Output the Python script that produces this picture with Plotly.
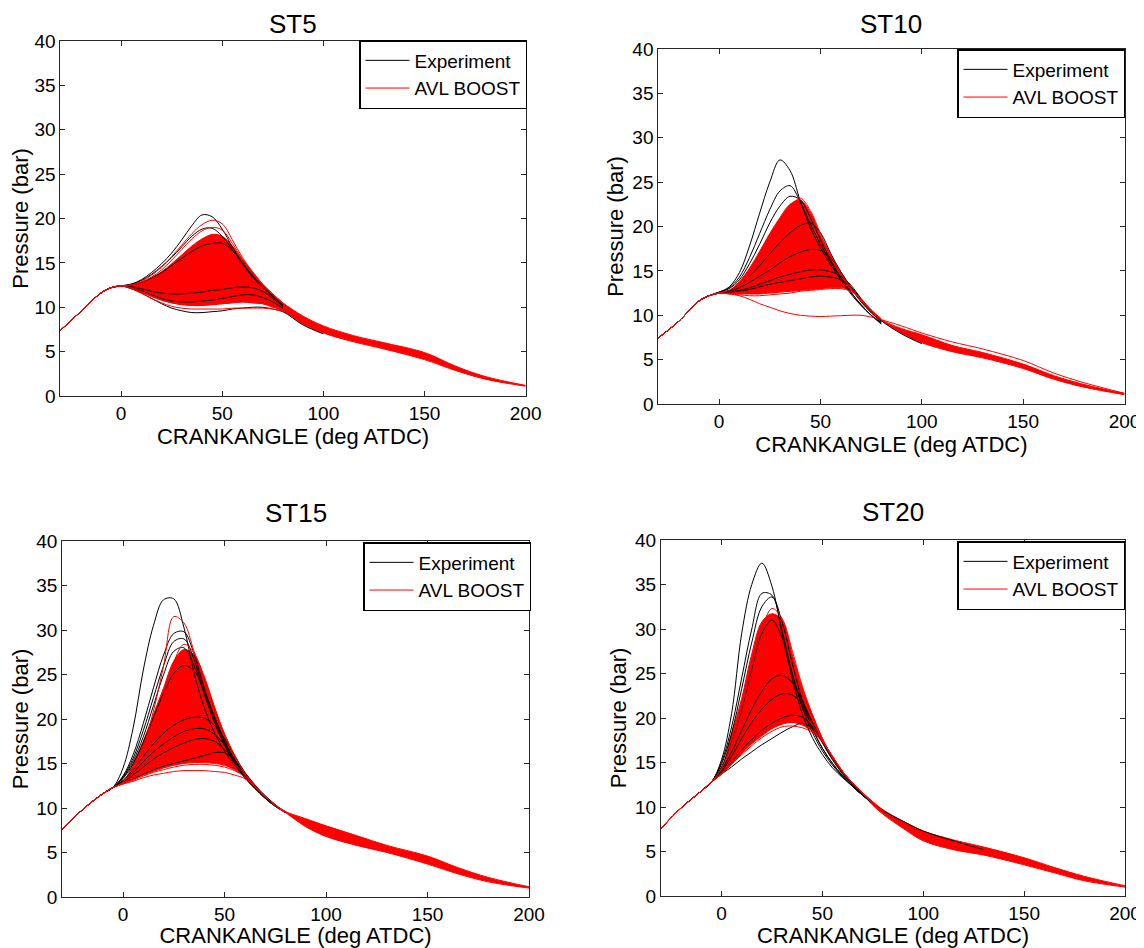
import plotly.graph_objects as go

# Crank angle grid (deg ATDC)
ANG = [-30, -20, -10, -5, 0, 5, 10, 15, 20, 25, 30, 35, 40, 45, 50, 55, 60, 65, 70, 75, 80,
       90, 100, 115, 130, 150, 165, 180, 200]

TITLES = ["ST5", "ST10", "ST15", "ST20"]
X_TICKS = [0, 50, 100, 150, 200]
Y_TICKS = [0, 5, 10, 15, 20, 25, 30, 35, 40]

# ---------------- ST5 ----------------
ST5_COMP = [7.4, 9.5, 11.6, 12.2]
ST5_RED_UPPER = [12.4, 12.5, 12.8, 13.3, 14.0, 14.9, 15.9, 16.9, 17.7, 18.2, 18.0, 16.9, 15.4, 14.0, 12.6, 11.5, 10.5,
                 9.0, 7.9, 6.8, 6.0, 4.9, 3.4, 2.2, 1.2]
ST5_RED_LOWER = [12.4, 12.1, 11.7, 11.2, 10.8, 10.5, 10.3, 10.2, 10.2, 10.3, 10.4, 10.5, 10.6, 10.5, 10.4, 10.0, 9.6,
                 8.1, 7.1, 6.1, 5.3, 4.1, 2.9, 1.9, 1.1]
ST5_SIM = [
    [12.4, 12.5, 12.9, 13.6, 14.5, 15.7, 17.0, 18.3, 19.3, 19.8, 19.4, 17.6, 15.6, 14.0, 12.6, 11.5, 10.5],
    [12.4, 12.5, 12.8, 13.4, 14.2, 15.3, 16.5, 17.7, 18.6, 19.0, 18.7, 17.2, 15.4, 13.9, 12.5, 11.4, 10.4],
    [12.4, 12.2, 11.8, 11.3, 10.8, 10.5, 10.3, 10.2, 10.2, 10.3, 10.4, 10.5, 10.6, 10.5, 10.4, 10.1, 9.6],
    [12.4, 12.1, 11.6, 11.0, 10.5, 10.1, 9.9, 9.8, 9.8, 9.8, 9.8, 9.9, 9.9, 9.9, 9.9, 9.8, 9.5],
]
ST5_EXP = [
    [12.4, 12.6, 13.1, 13.9, 14.9, 16.1, 17.6, 19.2, 20.4, 20.2, 18.8, 16.8, 15.0, 13.5, 12.2, 11.2, 10.2],
    [12.4, 12.6, 13.0, 13.7, 14.6, 15.6, 16.8, 18.0, 18.8, 18.9, 18.0, 16.5, 14.9, 13.4, 12.2, 11.2, 10.2],
    [12.4, 12.5, 12.8, 13.3, 13.9, 14.7, 15.5, 16.3, 16.9, 17.2, 17.2, 16.4, 15.0, 13.6, 12.4, 11.3, 10.3],
    [12.4, 12.3, 12.1, 11.8, 11.6, 11.5, 11.5, 11.6, 11.7, 11.9, 12.0, 12.2, 12.3, 12.2, 11.8, 11.0, 10.1],
    [12.4, 12.2, 11.9, 11.4, 11.0, 10.7, 10.6, 10.6, 10.7, 10.8, 11.0, 11.2, 11.4, 11.4, 11.1, 10.6, 9.9],
    [12.4, 12.1, 11.6, 11.0, 10.4, 9.9, 9.6, 9.4, 9.4, 9.5, 9.6, 9.8, 9.9, 10.0, 10.0, 9.8, 9.5, 8.0, 7.0],
]

# ---------------- ST10 ----------------
ST10_COMP = [7.45, 9.3, 11.6, 12.2]
ST10_RED_UPPER = [12.5, 12.8, 13.8, 15.3, 17.2, 19.2, 21.0, 22.5, 23.0, 21.6, 19.0, 16.8, 14.8, 13.1, 11.6, 10.4, 9.5,
                  8.5, 7.8, 6.6, 5.8, 4.5, 3.2, 2.2, 1.2]
ST10_RED_LOWER = [12.5, 12.5, 12.4, 12.4, 12.4, 12.5, 12.6, 12.7, 12.8, 12.9, 13.0, 13.1, 13.1, 12.8, 11.6, 10.4, 9.4,
                  8.0, 6.9, 5.9, 5.2, 4.0, 2.8, 1.9, 1.05]
ST10_SIM = [
    [12.5, 12.8, 13.4, 14.5, 16.0, 17.9, 19.9, 22.0, 23.2, 21.8, 19.2, 16.8, 14.8, 13.1, 11.6, 10.4, 9.5],
    [12.5, 12.4, 12.3, 12.2, 12.2, 12.3, 12.4, 12.5, 12.7, 12.8, 12.9, 13.0, 13.0, 12.7, 11.8, 10.6, 9.6],
    [12.5, 12.5, 12.6, 12.7, 12.9, 13.1, 13.3, 13.5, 13.6, 13.8, 13.9, 13.9, 13.7, 13.0, 11.8, 10.5, 9.5],
    [12.5, 12.4, 12.2, 11.8, 11.3, 10.9, 10.5, 10.2, 10.0, 9.9, 9.85, 9.9, 9.95, 10.0, 10.0, 9.8, 9.5,
     8.8, 8.0, 7.0, 6.2, 4.9, 3.5, 2.4, 1.2],
]
ST10_EXP = [
    [12.6, 13.2, 14.8, 17.8, 21.5, 25.0, 27.5, 26.3, 22.9, 19.9, 17.6, 15.7, 14.0, 12.4, 11.1, 10.0, 9.2],
    [12.6, 13.1, 14.3, 16.5, 19.2, 21.9, 24.0, 24.6, 22.8, 20.3, 18.0, 16.0, 14.2, 12.6, 11.2, 10.0, 9.1],
    [12.6, 13.0, 14.0, 15.8, 18.0, 20.4, 22.3, 23.4, 23.0, 21.0, 18.5, 16.2, 14.3, 12.6, 11.2, 10.0, 9.0],
    [12.5, 12.8, 13.4, 14.4, 15.6, 16.9, 18.2, 19.3, 20.1, 20.4, 19.3, 17.0, 14.9, 13.1, 11.5, 10.3, 9.3],
    [12.5, 12.7, 13.1, 13.7, 14.4, 15.1, 15.9, 16.6, 17.1, 17.4, 17.3, 16.5, 14.9, 13.2, 11.6, 10.3, 9.3],
    [12.5, 12.6, 12.8, 13.1, 13.5, 13.9, 14.3, 14.6, 14.9, 15.1, 15.1, 14.9, 14.4, 13.4, 11.9, 10.6, 9.5],
    [12.5, 12.5, 12.7, 12.9, 13.2, 13.5, 13.7, 13.9, 14.1, 14.3, 14.4, 14.3, 14.0, 13.2, 11.8, 10.5, 9.4, 7.9, 6.8],
]

# ---------------- ST15 ----------------
ST15_COMP = [7.6, 9.8, 11.6, 12.3]
ST15_RED_UPPER = [12.9, 15.0, 17.5, 20.5, 23.5, 26.5, 27.8, 27.2, 24.8, 21.4, 18.3, 15.9, 13.9, 12.5, 11.3, 10.3, 9.6,
                  8.8, 8.0, 6.9, 5.8, 4.6, 3.3, 2.2, 1.15]
ST15_RED_LOWER = [12.8, 13.2, 13.7, 14.1, 14.5, 14.8, 15.0, 15.1, 15.1, 15.0, 14.8, 14.3, 13.5, 12.4, 11.3, 10.3, 9.5,
                  7.9, 6.8, 5.8, 5.0, 3.7, 2.6, 1.7, 1.0]
ST15_SIM = [
    [12.9, 14.3, 16.9, 20.9, 26.0, 31.5, 30.8, 27.6, 24.6, 21.3, 18.3, 15.9, 13.9, 12.5, 11.3, 10.3, 9.6],
    [12.8, 14.0, 16.2, 19.2, 22.8, 26.4, 28.4, 27.4, 24.6, 21.3, 18.3, 15.9, 13.9, 12.5, 11.3, 10.3, 9.6],
    [12.7, 13.0, 13.4, 13.7, 13.9, 14.1, 14.2, 14.2, 14.2, 14.1, 14.0, 13.7, 13.3, 12.4, 11.3, 10.3, 9.5],
    [12.7, 13.1, 13.6, 14.0, 14.3, 14.6, 14.8, 14.9, 14.9, 14.8, 14.6, 14.2, 13.5, 12.4, 11.3, 10.3, 9.5],
    [12.8, 13.3, 13.9, 14.4, 14.9, 15.4, 15.8, 16.1, 16.2, 16.1, 15.7, 14.9, 13.8, 12.5, 11.3, 10.3, 9.5],
]
ST15_EXP = [
    [14.5, 19.0, 25.5, 30.5, 33.4, 33.5, 30.3, 25.2, 21.3, 18.5, 16.4, 14.8, 13.5, 12.3, 11.2, 10.3, 9.6],
    [13.6, 16.0, 19.5, 23.5, 27.2, 29.6, 29.8, 27.3, 23.5, 20.1, 17.4, 15.2, 13.5, 12.2, 11.1, 10.2, 9.5],
    [13.5, 15.6, 18.7, 22.4, 26.0, 28.7, 29.0, 26.7, 23.0, 19.7, 17.1, 15.0, 13.4, 12.2, 11.1, 10.2, 9.5],
    [13.4, 15.3, 18.0, 21.5, 25.0, 27.6, 28.0, 26.0, 22.8, 19.7, 17.1, 15.0, 13.4, 12.2, 11.1, 10.2, 9.5],
    [13.3, 15.0, 17.4, 20.2, 22.9, 25.1, 26.0, 25.4, 23.2, 20.3, 17.6, 15.4, 13.6, 12.3, 11.2, 10.3, 9.5],
    [13.1, 14.3, 15.8, 17.2, 18.4, 19.3, 19.9, 20.2, 20.1, 19.3, 17.8, 15.9, 14.0, 12.5, 11.3, 10.3, 9.5],
    [13.0, 14.0, 15.2, 16.3, 17.2, 18.0, 18.6, 18.9, 18.9, 18.3, 17.1, 15.5, 13.8, 12.4, 11.3, 10.3, 9.5],
    [12.9, 13.7, 14.6, 15.5, 16.2, 16.8, 17.3, 17.7, 17.8, 17.5, 16.6, 15.3, 13.8, 12.4, 11.3, 10.3, 9.5],
    [12.8, 13.3, 13.8, 14.3, 14.7, 15.0, 15.3, 15.6, 15.9, 16.2, 16.2, 15.4, 14.0, 12.6, 11.4, 10.4, 9.5],
]

# ---------------- ST20 ----------------
ST20_COMP = [7.6, 9.9, 11.8, 12.8]
ST20_RED_UPPER = [14.3, 18.2, 22.2, 27.2, 30.8, 31.7, 31.0, 27.2, 23.4, 20.4, 17.7, 15.5, 14.0, 12.7, 11.6, 10.6, 9.7,
                  8.4, 7.3, 6.3, 5.5, 4.3, 3.2, 2.2, 1.15]
ST20_RED_LOWER = [13.7, 14.8, 16.0, 17.1, 18.0, 18.8, 19.3, 19.5, 19.2, 18.5, 17.3, 15.6, 13.9, 12.6, 11.4, 10.2, 9.2,
                  7.6, 6.2, 5.2, 4.6, 3.5, 2.6, 1.7, 1.0]
ST20_SIM = [
    [14.3, 17.2, 21.2, 25.8, 30.0, 32.3, 31.2, 27.6, 23.6, 20.4, 17.7, 15.5, 13.9, 12.6, 11.5, 10.5, 9.6],
    [13.7, 14.8, 15.9, 16.9, 17.8, 18.5, 19.0, 19.1, 18.9, 18.4, 17.3, 15.7, 14.0, 12.7, 11.5, 10.4, 9.5],
    [13.7, 14.9, 16.1, 17.2, 18.1, 18.9, 19.4, 19.6, 19.3, 18.6, 17.4, 15.7, 14.0, 12.7, 11.5, 10.4, 9.5],
    [13.8, 15.1, 16.6, 18.0, 19.3, 20.4, 21.1, 21.1, 20.5, 19.2, 17.5, 15.7, 14.0, 12.7, 11.5, 10.4, 9.5],
]
ST20_EXP = [
    [15.3, 20.5, 29.5, 35.0, 37.4, 34.8, 29.5, 24.5, 20.5, 17.8, 15.9, 14.4, 13.3, 12.3, 11.3, 10.4, 9.6,
     8.4, 7.3, 6.2, 5.2],
    [15.0, 19.0, 24.5, 30.0, 34.0, 33.8, 29.8, 25.0, 21.2, 18.4, 16.3, 14.7, 13.4, 12.3, 11.3, 10.4, 9.6],
    [14.8, 18.3, 23.3, 28.5, 32.5, 33.6, 30.8, 26.2, 22.0, 18.9, 16.6, 14.9, 13.5, 12.3, 11.3, 10.4, 9.6],
    [14.5, 17.3, 21.0, 25.5, 29.5, 31.0, 29.0, 25.0, 21.5, 18.8, 16.6, 14.9, 13.5, 12.3, 11.3, 10.4, 9.6],
    [14.2, 16.2, 18.6, 21.0, 23.0, 24.4, 24.8, 24.0, 22.0, 19.5, 17.2, 15.3, 13.7, 12.4, 11.3, 10.4, 9.6],
    [14.0, 15.7, 17.7, 19.5, 21.0, 22.1, 22.7, 22.6, 21.5, 19.5, 17.3, 15.4, 13.8, 12.5, 11.4, 10.4, 9.6],
    [13.8, 15.1, 16.4, 17.6, 18.6, 19.4, 20.0, 20.3, 20.1, 19.1, 17.4, 15.6, 13.9, 12.5, 11.4, 10.4, 9.6],
    [13.7, 14.5, 15.4, 16.2, 17.0, 17.7, 18.4, 19.0, 19.4, 18.9, 17.5, 15.6, 13.9, 12.5, 11.4, 10.4, 9.6],
]

FONT = "Liberation Sans, Arial, sans-serif"

# The page body has an 8 px margin, so the figure is placed at (8, 8) in the window.
OFF = 8
W, H = 1144 - OFF, 948 - OFF
# pixel geometry of the four axes boxes (left, right, top, bottom) in the 1144x948 window
BOXES = [(60.4, 525.6, 41, 396), (658.3, 1124.5, 49, 404), (62.1, 529, 541, 897), (661, 1125, 540, 896)]
TITLE_Y = [24, 24, 513, 512]
LEGEND_POS = [(527, 40), (1125, 49), (531, 542), (1125, 541)]


def px(xw):
    return (xw - OFF) / W


def py(yw):
    return 1 - (yw - OFF) / H


PANELS = [
    (ST5_COMP, ST5_RED_UPPER, ST5_RED_LOWER, ST5_EXP, ST5_SIM),
    (ST10_COMP, ST10_RED_UPPER, ST10_RED_LOWER, ST10_EXP, ST10_SIM),
    (ST15_COMP, ST15_RED_UPPER, ST15_RED_LOWER, ST15_EXP, ST15_SIM),
    (ST20_COMP, ST20_RED_UPPER, ST20_RED_LOWER, ST20_EXP, ST20_SIM),
]

fig = go.Figure()
layout = dict()
annotations = []

for k, (comp, up, lo, exp, sim) in enumerate(PANELS):
    n = k + 1
    xa = "x" if n == 1 else f"x{n}"
    ya = "y" if n == 1 else f"y{n}"
    leg = "legend" if n == 1 else f"legend{n}"

    # dense red band of simulated cycles
    fig.add_trace(go.Scatter(x=ANG, y=comp + lo, mode="lines", xaxis=xa, yaxis=ya,
                             line=dict(color="#ff0000", width=1, shape="spline"),
                             showlegend=False, hoverinfo="skip"))
    fig.add_trace(go.Scatter(x=ANG, y=comp + up, mode="lines", xaxis=xa, yaxis=ya,
                             fill="tonexty", fillcolor="#ff0000",
                             line=dict(color="#ff0000", width=1, shape="spline"),
                             showlegend=False, hoverinfo="skip"))
    # experiment cycles
    for i, m in enumerate(exp):
        y = comp + m
        fig.add_trace(go.Scatter(x=ANG[:len(y)], y=y, mode="lines", xaxis=xa, yaxis=ya,
                                 name="Experiment", legend=leg, showlegend=(i == 0),
                                 line=dict(color="#000000", width=1, shape="spline")))
    # individual simulated cycles
    for i, m in enumerate(sim):
        y = comp + m
        fig.add_trace(go.Scatter(x=ANG[:len(y)], y=y, mode="lines", xaxis=xa, yaxis=ya,
                                 name="AVL BOOST", legend=leg, showlegend=(i == 0),
                                 line=dict(color="#ff0000", width=1, shape="spline")))

    l, r, t, b = BOXES[k]
    axis_common = dict(showline=True, linecolor="#262626", linewidth=1, mirror="ticks",
                       ticks="inside", ticklen=5, tickcolor="#262626", showgrid=False,
                       zeroline=False, automargin=False, ticklabeloverflow="allow",
                       tickfont=dict(family=FONT, size=19, color="#000000"))
    layout["xaxis" if n == 1 else f"xaxis{n}"] = dict(
        domain=[px(l), px(r)], anchor=ya, range=[-30, 200], tickvals=X_TICKS,
        title=dict(text="CRANKANGLE (deg ATDC)", font=dict(family=FONT, size=22, color="#000000"), standoff=2),
        **axis_common)
    layout["yaxis" if n == 1 else f"yaxis{n}"] = dict(
        domain=[py(b), py(t)], anchor=xa, range=[0, 40], tickvals=Y_TICKS,
        title=dict(text="Pressure (bar)", font=dict(family=FONT, size=22, color="#000000"), standoff=2),
        **axis_common)
    lx, ly = LEGEND_POS[k]
    layout[leg] = dict(x=px(lx), y=py(ly), xanchor="right", yanchor="top",
                       traceorder="normal", itemwidth=44,
                       bgcolor="#ffffff", bordercolor="#000000", borderwidth=1.5,
                       font=dict(family=FONT, size=19, color="#000000"), tracegroupgap=0)
    annotations.append(dict(text=TITLES[k], x=px((l + r) / 2), y=py(TITLE_Y[k]),
                            xref="paper", yref="paper", showarrow=False,
                            xanchor="center", yanchor="middle",
                            font=dict(family=FONT, size=26, color="#000000")))

fig.update_layout(width=W, height=H, margin=dict(l=0, r=0, t=0, b=0, autoexpand=False),
                  paper_bgcolor="#ffffff", plot_bgcolor="#ffffff",
                  annotations=annotations, **layout)

fig.write_html("out.html")
